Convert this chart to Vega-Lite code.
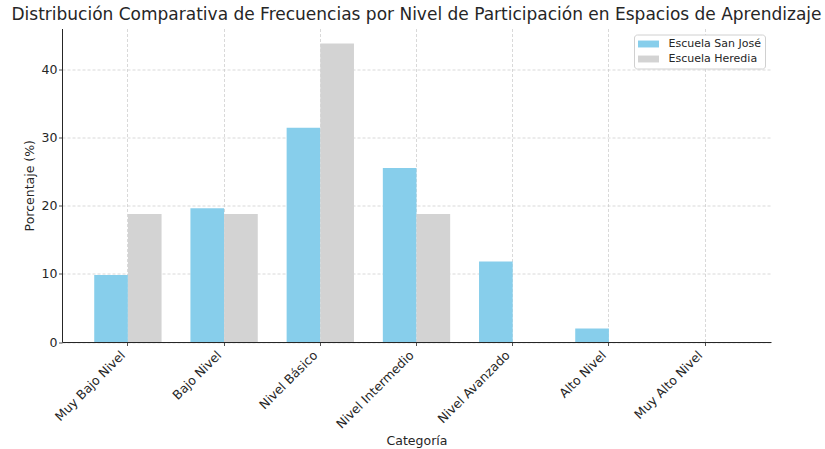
{
  "$schema": "https://vega.github.io/schema/vega-lite/v6.json",
  "autosize": "none",
  "width": 709,
  "height": 313.5,
  "padding": {"left": 62, "top": 28.5, "right": 54, "bottom": 107},
  "background": "white",
  "config": {
    "font": "DejaVu Sans",
    "view": {"stroke": null},
    "axis": {
      "labelFont": "DejaVu Sans",
      "titleFont": "DejaVu Sans",
      "labelColor": "#262626",
      "titleColor": "#262626",
      "labelFontSize": 12.5,
      "titleFontSize": 12.5,
      "titleFontWeight": "normal",
      "domainColor": "#262626",
      "domainWidth": 1,
      "tickColor": "#262626",
      "tickSize": 3.5,
      "tickWidth": 0.8,
      "gridColor": "#c8c8c8",
      "gridDash": [3, 2],
      "gridWidth": 0.7
    }
  },
  "title": {
    "text": "Distribución Comparativa de Frecuencias por Nivel de Participación en Espacios de Aprendizaje",
    "font": "DejaVu Sans",
    "fontSize": 17,
    "fontWeight": "normal",
    "color": "#262626",
    "anchor": "middle",
    "offset": 5
  },
  "data": {
    "values": [
      {"categoria": "Muy Bajo Nivel", "escuela": "Escuela San José", "porcentaje": 9.8},
      {"categoria": "Bajo Nivel", "escuela": "Escuela San José", "porcentaje": 19.6},
      {"categoria": "Nivel Básico", "escuela": "Escuela San José", "porcentaje": 31.4},
      {"categoria": "Nivel Intermedio", "escuela": "Escuela San José", "porcentaje": 25.5},
      {"categoria": "Nivel Avanzado", "escuela": "Escuela San José", "porcentaje": 11.8},
      {"categoria": "Alto Nivel", "escuela": "Escuela San José", "porcentaje": 1.96},
      {"categoria": "Muy Alto Nivel", "escuela": "Escuela San José", "porcentaje": 0},
      {"categoria": "Muy Bajo Nivel", "escuela": "Escuela Heredia", "porcentaje": 18.75},
      {"categoria": "Bajo Nivel", "escuela": "Escuela Heredia", "porcentaje": 18.75},
      {"categoria": "Nivel Básico", "escuela": "Escuela Heredia", "porcentaje": 43.75},
      {"categoria": "Nivel Intermedio", "escuela": "Escuela Heredia", "porcentaje": 18.75},
      {"categoria": "Nivel Avanzado", "escuela": "Escuela Heredia", "porcentaje": 0},
      {"categoria": "Alto Nivel", "escuela": "Escuela Heredia", "porcentaje": 0},
      {"categoria": "Muy Alto Nivel", "escuela": "Escuela Heredia", "porcentaje": 0}
    ]
  },
  "mark": {"type": "bar"},
  "encoding": {
    "x": {
      "field": "categoria",
      "type": "nominal",
      "sort": ["Muy Bajo Nivel", "Bajo Nivel", "Nivel Básico", "Nivel Intermedio", "Nivel Avanzado", "Alto Nivel", "Muy Alto Nivel"],
      "scale": {"paddingInner": 0.3, "paddingOuter": 0.335},
      "axis": {
        "title": "Categoría",
        "labelAngle": -45,
        "labelAlign": "right",
        "labelBaseline": "top",
        "labelPadding": 3,
        "labelOffset": -9,
        "titlePadding": 4,
        "grid": true
      }
    },
    "xOffset": {
      "field": "escuela",
      "type": "nominal",
      "sort": ["Escuela San José", "Escuela Heredia"],
      "scale": {"paddingInner": 0, "paddingOuter": 0}
    },
    "y": {
      "field": "porcentaje",
      "type": "quantitative",
      "scale": {"domain": [0, 45.94], "nice": false},
      "axis": {
        "title": "Porcentaje (%)",
        "values": [0, 10, 20, 30, 40],
        "titlePadding": 5,
        "labelPadding": 1.5
      }
    },
    "color": {
      "field": "escuela",
      "type": "nominal",
      "sort": ["Escuela San José", "Escuela Heredia"],
      "scale": {"range": ["#87CEEB", "#D3D3D3"]},
      "legend": {
        "title": null,
        "orient": "top-right",
        "offset": 6,
        "fillColor": "white",
        "strokeColor": "#d0d0d0",
        "cornerRadius": 3,
        "padding": 4,
        "symbolType": "M-2,-0.66H2V0.66H-2Z",
        "symbolSize": 110,
        "symbolOffset": 5,
        "symbolOpacity": 1,
        "symbolStrokeWidth": 0,
        "labelFont": "DejaVu Sans",
        "labelFontSize": 11,
        "labelColor": "#262626",
        "labelOffset": 14.5,
        "rowPadding": 3
      }
    }
  }
}
